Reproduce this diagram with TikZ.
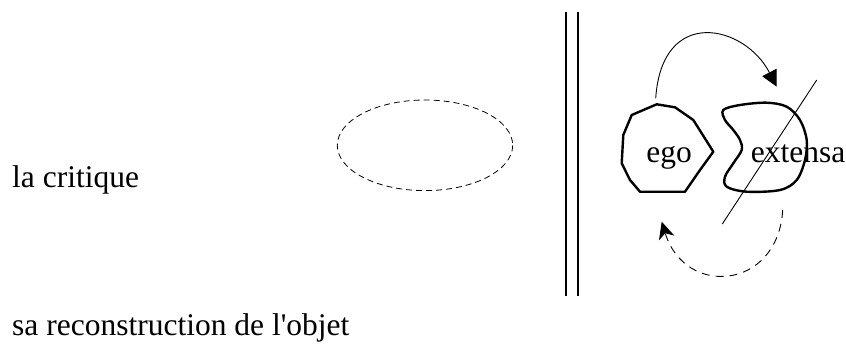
\documentclass[tikz,border=0pt]{standalone}
\usepackage{fontspec}
\setmainfont{Liberation Serif}
\usepackage{tikz}
\usetikzlibrary{arrows.meta,positioning}

\begin{document}
\begin{tikzpicture}[
  x=1pt,y=-1pt,
  lbl/.style={anchor=base west,inner sep=0pt,font=\fontsize{31.5}{36}\selectfont},
  blob/.style={line width=2.4pt,line join=round},
  wall/.style={line width=2pt},
  loop/.style={line width=0.9pt,-{Triangle[length=16pt,width=16pt]}},
  back/.style={line width=0.9pt,dash pattern=on 8pt off 6pt,-{Stealth[length=17pt,width=16pt,inset=5pt]}}
]
  \useasboundingbox (0,0) rectangle (846,343);
  % texts
  \node[lbl] (critique) at (12,187) {la critique};
  \node[lbl] (reconstruction) at (12,335) {sa reconstruction de l\textquotesingle objet};
  % dashed ellipse
  \draw[line width=0.8pt,dash pattern=on 6pt off 4pt] (425,145.3) ellipse [x radius=87.7,y radius=45.3];
  % double wall
  \draw[wall] (566,12) -- (566,296);
  \draw[wall] (578,12) -- (578,296);
  % ego and extensa
  \draw[blob] (656.7,104.3) -- (675,107.3) -- (693.3,120) -- (713.3,151.7) -- (700,170)
    -- (685,191.7) -- (640,191.7) -- (630,180) -- (621.7,163.3) -- (623.3,135)
    -- (631.7,115) -- cycle;
  \draw[blob] plot[smooth cycle,tension=0.55] coordinates {(723.3,110) (740,105) (766.7,102.7)
    (786.7,106.7) (800,120) (806.7,140) (805,160) (796.7,180) (780,190) (746.7,191.7)
    (726.7,186.7) (725,176.7) (733.3,163.3) (741.7,150) (740,140) (733.3,130) (725,120)};
  \node[lbl,anchor=base] (ego) at (669,162) {ego};
  \node[lbl] (extensa) at (750.7,162) {extensa};
  % crossing line
  \draw[line width=0.9pt] (816.7,80) -- (722.3,224);
  % loop arrows
  \coordinate (a1) at (655.7,98.3);
  \coordinate (a2) at (776.7,86.7);
  \coordinate (b1) at (782.7,210);
  \coordinate (b2) at (661.7,221.7);
  \draw[loop] (a1) .. controls (662,5) and (745,25) .. (a2);
  \draw[back] (b1) .. controls (778,290) and (685,298) .. (b2);
\end{tikzpicture}
\end{document}
